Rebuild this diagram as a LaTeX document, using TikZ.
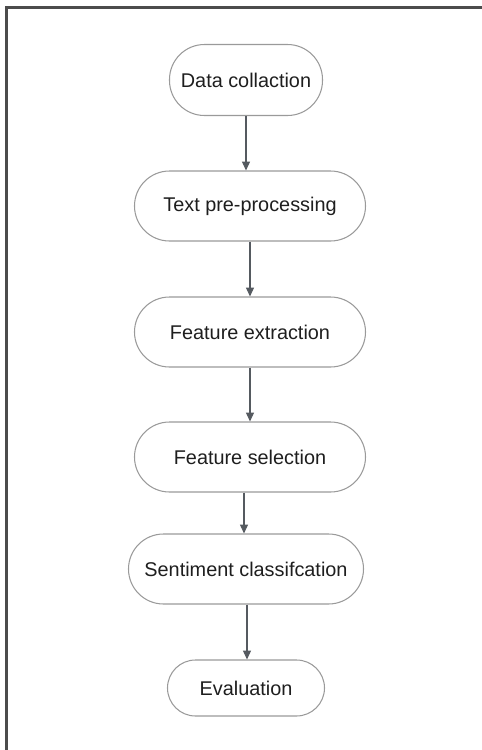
\documentclass[tikz,border=0pt]{standalone}
\usepackage{fontspec}
\setmainfont{Liberation Sans}
\usetikzlibrary{arrows.meta}
\definecolor{boxline}{HTML}{9A9A9A}
\definecolor{arrowgray}{HTML}{555A60}
\definecolor{textgray}{HTML}{1E1E1E}
\tikzset{
  stage/.style={draw=boxline, line width=0.6pt, rectangle, inner sep=0pt,
    minimum height=1.4cm, rounded corners=0.7cm, text=textgray,
    font=\fontsize{11.3}{13}\selectfont},
  flow/.style={draw=arrowgray, line width=0.6pt, -{Triangle[length=5pt,width=4.5pt]}}
}
\begin{document}
\begin{tikzpicture}
    \useasboundingbox (0,0) rectangle (9.64,-15);
    % Frame (only left and top edges visible)
    \draw[black!70, line width=1.2pt] (0.13,-15) -- (0.13,-0.15) -- (9.64,-0.15);

    % Nodes for the pipeline
    \node[stage, minimum width=3.06cm, minimum height=1.42cm] (collect) at (4.92,-1.60) {Data collaction};
    \node[stage, minimum width=4.62cm] (preproc) at (5.00,-4.12) {Text pre-processing};
    \node[stage, minimum width=4.62cm] (extract) at (5.00,-6.64) {Feature extraction};
    \node[stage, minimum width=4.62cm] (select) at (5.00,-9.14) {Feature selection};
    \node[stage, minimum width=4.70cm] (classify) at (4.92,-11.38) {Sentiment classifcation};
    \node[stage, minimum width=3.14cm, minimum height=1.12cm, rounded corners=0.56cm] (evaluate) at (4.92,-13.76) {Evaluation};

    % Edges
    \draw[flow] (collect.south) -- (collect.south |- preproc.north);
    \draw[flow] (preproc.south) -- (preproc.south |- extract.north);
    \draw[flow] (extract.south) -- (extract.south |- select.north);
    \draw[flow] ([xshift=-0.12cm]select.south) -- ([xshift=-0.12cm]select.south |- classify.north);
    \draw[flow] ([xshift=0.02cm]classify.south) -- ([xshift=0.02cm]classify.south |- evaluate.north);
\end{tikzpicture}
\end{document}
